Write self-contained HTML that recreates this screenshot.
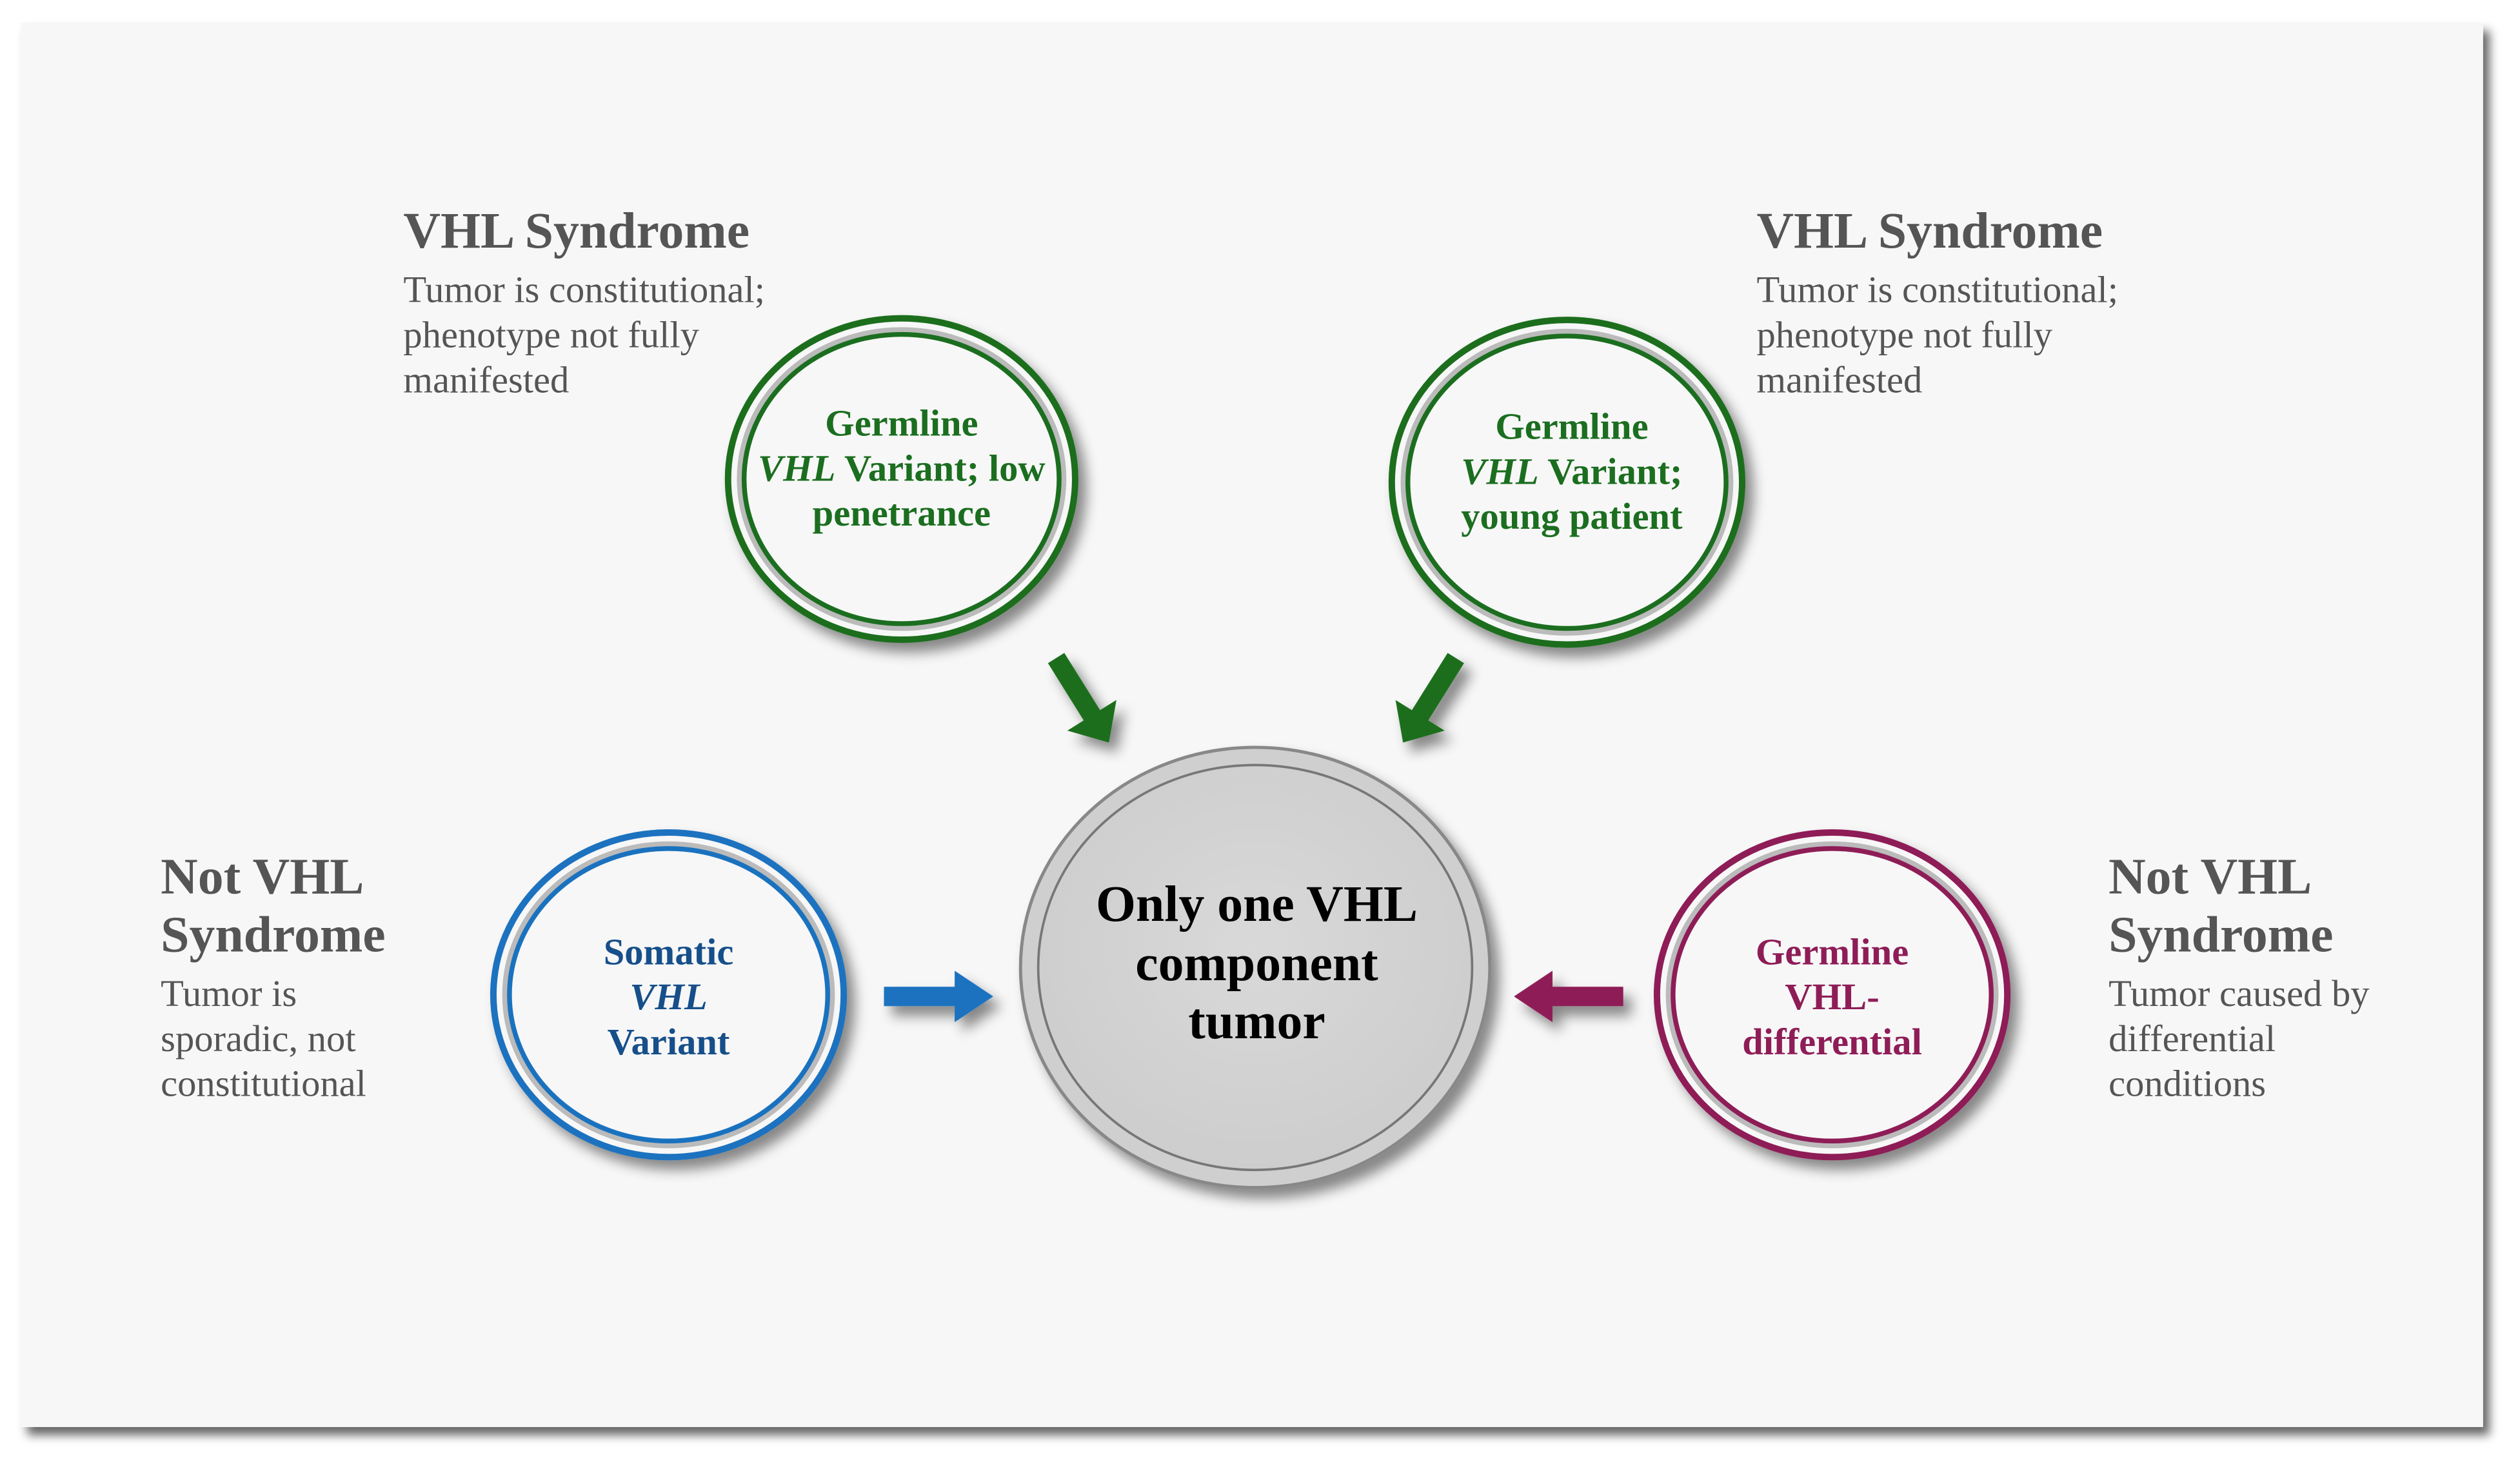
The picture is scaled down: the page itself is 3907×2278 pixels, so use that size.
<!DOCTYPE html>
<html><head><meta charset="utf-8"><style>html,body{margin:0;padding:0;background:#fff}svg{display:block}</style></head>
<body>
<svg width="3907" height="2278" viewBox="0 0 1568 914" xmlns="http://www.w3.org/2000/svg" font-family="Liberation Serif, serif">
<defs>
<filter id="sh" x="-20%" y="-20%" width="150%" height="150%"><feDropShadow dx="5" dy="6" stdDeviation="4" flood-color="#000" flood-opacity="0.45"/></filter>
<filter id="psh" x="-5%" y="-5%" width="110%" height="110%"><feDropShadow dx="4" dy="5" stdDeviation="3" flood-color="#000" flood-opacity="0.6"/></filter>
<radialGradient id="cg" cx="0.5" cy="0.45" r="0.6"><stop offset="0" stop-color="#d9d9d9"/><stop offset="1" stop-color="#cccccc"/></radialGradient>
</defs>
<rect x="13" y="14" width="1532" height="874" fill="#f7f7f7" filter="url(#psh)"/>
<g font-weight="bold" fill="#555" font-size="32">
<text x="251" y="154">VHL Syndrome</text>
<text x="1093" y="154">VHL Syndrome</text>
<text x="100" y="556">Not VHL</text><text x="100" y="592">Syndrome</text>
<text x="1312" y="556">Not VHL</text><text x="1312" y="592">Syndrome</text>
</g>
<g fill="#555" font-size="23.5">
<text x="251" y="188">Tumor is constitutional;</text><text x="251" y="216">phenotype not fully</text><text x="251" y="244">manifested</text>
<text x="1093" y="188">Tumor is constitutional;</text><text x="1093" y="216">phenotype not fully</text><text x="1093" y="244">manifested</text>
<text x="100" y="626">Tumor is</text><text x="100" y="654">sporadic, not</text><text x="100" y="682">constitutional</text>
<text x="1312" y="626">Tumor caused by</text><text x="1312" y="654">differential</text><text x="1312" y="682">conditions</text>
</g>
<g filter="url(#sh)">
<ellipse cx="561" cy="298" rx="108" ry="100" fill="#f7f7f7" stroke="#1b6e1f" stroke-width="4"/>
<ellipse cx="975" cy="300" rx="109" ry="101" fill="#f7f7f7" stroke="#1b6e1f" stroke-width="4"/>
<ellipse cx="416" cy="619" rx="109" ry="101" fill="#f7f7f7" stroke="#1a72bf" stroke-width="4"/>
<ellipse cx="1140" cy="619" rx="109" ry="101" fill="#f7f7f7" stroke="#8e1d57" stroke-width="4"/>
<ellipse cx="781" cy="602" rx="146" ry="137" fill="#cfcfcf" stroke="#888" stroke-width="2"/>
</g>
<g fill="none" stroke-width="2.5">
<ellipse cx="561" cy="298" rx="100" ry="92" stroke="#bbb" stroke-width="5"/>
<ellipse cx="561" cy="298" rx="98" ry="90" stroke="#1b6e1f" stroke-width="3"/>
<ellipse cx="975" cy="300" rx="101" ry="93" stroke="#bbb" stroke-width="5"/>
<ellipse cx="975" cy="300" rx="99" ry="91" stroke="#1b6e1f" stroke-width="3"/>
<ellipse cx="416" cy="619" rx="101" ry="93" stroke="#bbb" stroke-width="5"/>
<ellipse cx="416" cy="619" rx="99" ry="91" stroke="#1a72bf" stroke-width="3"/>
<ellipse cx="1140" cy="619" rx="101" ry="93" stroke="#bbb" stroke-width="5"/>
<ellipse cx="1140" cy="619" rx="99" ry="91" stroke="#8e1d57" stroke-width="3"/>
<ellipse cx="781" cy="602" rx="135" ry="126" stroke="#777" stroke-width="1.5" fill="url(#cg)"/>
</g>
<g filter="url(#sh)">
<g transform="translate(690,462) rotate(58)"><polygon points="0,0 -20,-18 -20,-6 -62,-6 -62,6 -20,6 -20,18" fill="#1b6e1f"/></g>
<g transform="translate(873,462) rotate(122)"><polygon points="0,0 -20,-18 -20,-6 -62,-6 -62,6 -20,6 -20,18" fill="#1b6e1f"/></g>
<g transform="translate(618,620)"><polygon points="0,0 -24,-16 -24,-6 -68,-6 -68,6 -24,6 -24,16" fill="#1a72bf"/></g>
<g transform="translate(942,620) rotate(180)"><polygon points="0,0 -24,-16 -24,-6 -68,-6 -68,6 -24,6 -24,16" fill="#8e1d57"/></g>
</g>
<g font-weight="bold" font-size="23.5" text-anchor="middle">
<g fill="#1b6e1f">
<text x="561" y="271">Germline</text><text x="561" y="299"><tspan font-style="italic">VHL</tspan> Variant; low</text><text x="561" y="327">penetrance</text>
<text x="978" y="273">Germline</text><text x="978" y="301"><tspan font-style="italic">VHL</tspan> Variant;</text><text x="978" y="329">young patient</text>
</g>
<g fill="#164f8a"><text x="416" y="600">Somatic</text><text x="416" y="628" font-style="italic">VHL</text><text x="416" y="656">Variant</text></g>
<g fill="#8e1d57"><text x="1140" y="600">Germline</text><text x="1140" y="628">VHL-</text><text x="1140" y="656">differential</text></g>
<g fill="#000" font-size="32"><text x="782" y="573">Only one VHL</text><text x="782" y="610">component</text><text x="782" y="646">tumor</text></g>
</g>
</svg>
</body></html>
